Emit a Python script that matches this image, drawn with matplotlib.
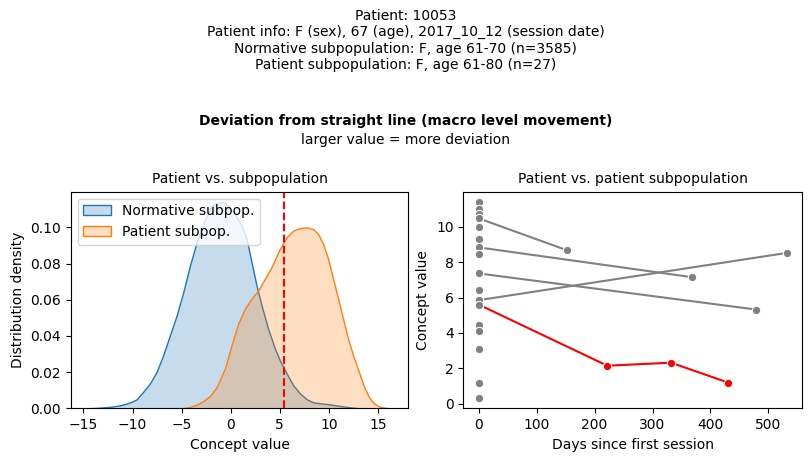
import matplotlib
matplotlib.use('Agg')
import matplotlib.pyplot as plt
from matplotlib.colors import to_rgba

# density curves (concept value, density)
norm_x = [-14.73, -13.5, -12.3, -11.3, -10.6, -10.0, -9.57, -8.90, -8.22, -7.54,
          -6.87, -6.19, -5.50, -4.83, -4.15, -3.47, -2.80, -2.35, -1.95, -1.27,
          -0.76, -0.25, 0.43, 1.11, 1.62, 2.12, 2.63, 3.14, 3.81, 4.50,
          5.0, 5.69, 6.36, 7.04, 7.72, 8.39, 9.07, 10.09, 11.1, 12.1, 13.14]
norm_y = [0.0, 0.0003, 0.0008, 0.0016, 0.0026, 0.0038, 0.0050, 0.0092, 0.0138, 0.0202,
          0.0294, 0.0404, 0.0514, 0.0642, 0.0789, 0.0917, 0.1019, 0.1075, 0.1118, 0.1140,
          0.1138, 0.1120, 0.1074, 0.1009, 0.0936, 0.0807, 0.0679, 0.0569, 0.0440, 0.0330,
          0.0266, 0.0193, 0.0128, 0.0083, 0.0051, 0.0033, 0.0028, 0.0022, 0.0013, 0.0006, 0.0]

pat_x = [-5.0, -4.15, -3.47, -2.80, -2.12, -1.45, -0.59, 0.09, 0.76, 1.44,
         2.12, 2.80, 3.48, 4.16, 4.83, 5.0, 5.44, 5.69, 6.36, 7.04,
         7.72, 8.39, 8.90, 9.41, 9.92, 10.43, 10.94, 11.44, 11.95, 12.46,
         13.14, 13.65, 14.16, 14.67, 15.18, 15.86, 16.53]
pat_y = [0.0, 0.0008, 0.0020, 0.0040, 0.0068, 0.0115, 0.0220, 0.0349, 0.0468, 0.0550,
         0.0606, 0.0651, 0.0716, 0.0780, 0.0862, 0.0880, 0.0920, 0.0945, 0.0982, 0.0995,
         0.1000, 0.0991, 0.0964, 0.0909, 0.0826, 0.0716, 0.0606, 0.0496, 0.0385, 0.0294,
         0.0188, 0.0110, 0.0055, 0.0024, 0.0009, 0.0002, 0.0]

patient_value = 5.47

# patient subpopulation: values at first session
first_vals = [11.42, 10.98, 10.7, 10.47, 9.96, 9.3, 8.83, 8.43, 7.36, 6.43,
              5.85, 5.6, 4.43, 4.13, 3.11, 1.17, 0.3]

# other patients with follow-up sessions
other_days = [[0, 153], [0, 368], [0, 479], [0, 532]]
other_vals = [[10.47, 8.66], [8.83, 7.15], [7.36, 5.32], [5.85, 8.52]]

# this patient
patient_days = [0, 222, 332, 431]
patient_vals = [5.6, 2.15, 2.32, 1.19]

header = ('Patient: 10053\n'
          'Patient info: F (sex), 67 (age), 2017_10_12 (session date)\n'
          'Normative subpopulation: F, age 61-70 (n=3585)\n'
          'Patient subpopulation: F, age 61-80 (n=27)')

fig = plt.figure(figsize=(8.11, 4.61), dpi=100)
ax1 = fig.add_axes([0.0872, 0.1143, 0.4163, 0.4699])
ax2 = fig.add_axes([0.5713, 0.1143, 0.4180, 0.4699])

fig.text(0.5, 0.9124, header, ha='center', va='center', fontsize=10)
fig.text(0.5, 0.7375, 'Deviation from straight line (macro level movement)',
         ha='center', va='center', fontsize=10, fontweight='bold')
fig.text(0.5, 0.6963, 'larger value = more deviation', ha='center', va='center', fontsize=10)

# left: distributions
ax1.fill_between(norm_x, norm_y, facecolor=to_rgba('C0', 0.25), edgecolor='C0',
                 linewidth=1, label='Normative subpop.')
ax1.fill_between(pat_x, pat_y, facecolor=to_rgba('C1', 0.25), edgecolor='C1',
                 linewidth=1, label='Patient subpop.')
ax1.axvline(patient_value, color='red', linestyle='--', linewidth=1.5)
ax1.set_ylim(0, None)
ax1.set_xlabel('Concept value')
ax1.set_ylabel('Distribution density')
ax1.set_title('Patient vs. subpopulation', fontsize=10)
ax1.legend(loc='upper left')

# right: sessions over time
for d, v in zip(other_days, other_vals):
    ax2.plot(d, v, color='gray', marker='o', markersize=6,
             markeredgecolor='white', markeredgewidth=0.75, linewidth=1.5)
ax2.plot(patient_days, patient_vals, color='red', marker='o', markersize=6,
         markeredgecolor='white', markeredgewidth=0.75, linewidth=1.5)
ax2.plot([0] * len(first_vals), first_vals, linestyle='none', color='gray', marker='o',
         markersize=6, markeredgecolor='white', markeredgewidth=0.75, zorder=3)
ax2.set_xlabel('Days since first session')
ax2.set_ylabel('Concept value')
ax2.set_title('Patient vs. patient subpopulation', fontsize=10)

fig.savefig('out.png', dpi=100)
